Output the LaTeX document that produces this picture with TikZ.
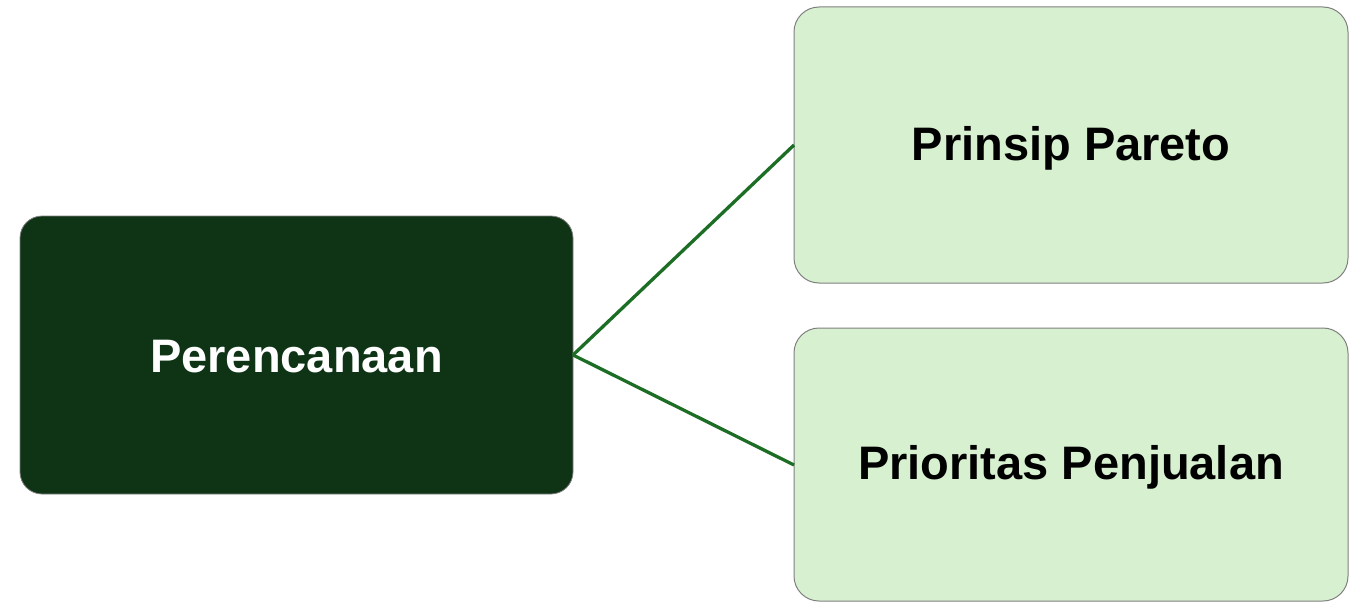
\documentclass[tikz,border=0pt]{standalone}
\usepackage{fontspec}
\setmainfont{Liberation Sans}
\definecolor{darkbox}{HTML}{0E3415}
\definecolor{lightbox}{HTML}{D7F0CF}
\definecolor{linkgreen}{HTML}{1C6E25}
\definecolor{edgegray}{HTML}{808080}
\begin{document}
\begin{tikzpicture}[x=1pt,y=-1pt,
  rootbox/.style={draw=edgegray,line width=0.8pt,fill=darkbox,rounded corners=22pt},
  leafbox/.style={draw=edgegray,line width=1pt,fill=lightbox,rounded corners=25pt},
  boxtext/.style={font=\bfseries\fontsize{47}{54}\selectfont,inner sep=0pt},
  link/.style={draw=linkgreen,line width=3.3pt}]
\useasboundingbox (0,0) rectangle (1357,602);
\path[rootbox] (20,216) rectangle (573,494);
\node[boxtext,text=white] (root) at (296.5,357) {Perencanaan};
\coordinate (rootE) at (573,355);
\path[leafbox] (794,7) rectangle (1348,283);
\node[boxtext] (a) at (1071,148) {Prinsip Pareto};
\coordinate (aW) at (794,145);
\path[leafbox] (794,328) rectangle (1348,601);
\node[boxtext] (b) at (1071,467) {Prioritas Penjualan};
\coordinate (bW) at (794,465);
\draw[link] (rootE) -- (aW);
\draw[link] (rootE) -- (bW);
\end{tikzpicture}
\end{document}
